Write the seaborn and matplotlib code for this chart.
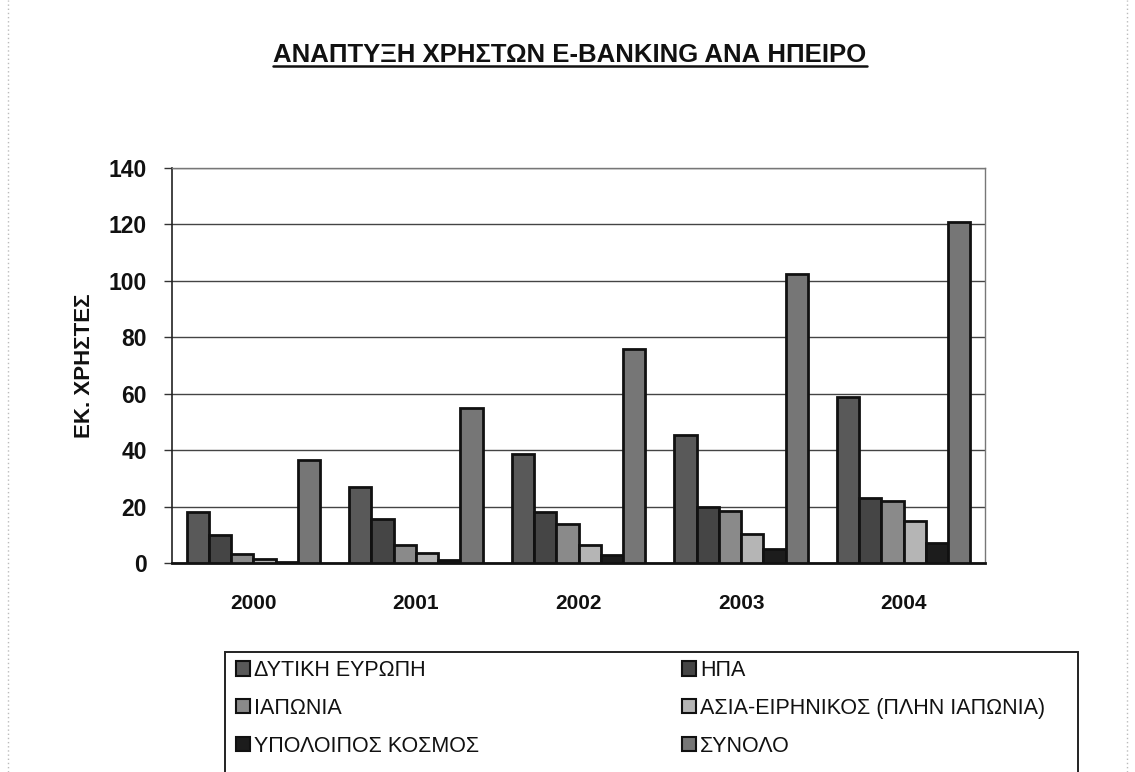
import matplotlib
matplotlib.use("Agg")
import matplotlib.pyplot as plt
from matplotlib.patches import Patch, Rectangle
from matplotlib.lines import Line2D
import seaborn as sns
import pandas as pd

# E-banking users (millions) by region
years = ["2000", "2001", "2002", "2003", "2004"]
western_europe = [18, 27, 38.5, 45.5, 59]
usa = [10, 15.5, 18, 20, 23]
japan = [3.2, 6.4, 14, 18.5, 22]
asia_pacific = [1.4, 3.6, 6.4, 10.3, 15]
rest_of_world = [0.5, 1, 3, 5, 7]
total = [36.5, 55, 76, 102.5, 121]

series_names = [
    "ΔΥΤΙΚΗ ΕΥΡΩΠΗ",
    "ΗΠΑ",
    "ΙΑΠΩΝΙΑ",
    "ΑΣΙΑ-ΕΙΡΗΝΙΚΟΣ (ΠΛΗΝ ΙΑΠΩΝΙΑ)",
    "ΥΠΟΛΟΙΠΟΣ ΚΟΣΜΟΣ",
    "ΣΥΝΟΛΟ",
]
series_values = [western_europe, usa, japan, asia_pacific, rest_of_world, total]
series_colors = ["#595959", "#454545", "#8a8a8a", "#b5b5b5", "#1c1c1c", "#767676"]

rows = []
for name, vals in zip(series_names, series_values):
    for y, v in zip(years, vals):
        rows.append({"year": y, "region": name, "users": v})
df = pd.DataFrame(rows)

sns.set_theme(style="white")
plt.rcParams["font.family"] = ["Liberation Sans", "DejaVu Sans"]

W, H = 1135, 772
fig = plt.figure(figsize=(W / 100, H / 100), dpi=100)
fig.patch.set_facecolor("white")
ax = fig.add_axes([172 / W, 1 - 563 / H, (985 - 172) / W, (563 - 168) / H])

palette = dict(zip(series_names, series_colors))
sns.barplot(
    data=df, x="year", y="users", hue="region", hue_order=series_names,
    order=years, palette=palette, saturation=1, width=0.82, gap=0,
    edgecolor="#111111", linewidth=2.0, legend=False, ax=ax, zorder=3,
)

ax.set_ylim(0, 140)
ax.set_xlim(-0.5, 4.5)
ax.set_yticks(range(0, 141, 20))
ax.yaxis.grid(True, color="#444444", linewidth=1.0, zorder=0)
ax.xaxis.grid(False)
for side in ["top", "right"]:
    ax.spines[side].set_color("#777777")
    ax.spines[side].set_linewidth(1.0)
ax.spines["left"].set_color("#222222")
ax.spines["left"].set_linewidth(1.2)
ax.spines["bottom"].set_color("#111111")
ax.spines["bottom"].set_linewidth(2.0)

ax.tick_params(axis="y", which="major", length=6, width=1, color="#333333",
               direction="out", left=True, pad=12, labelsize=16.5)
ax.tick_params(axis="x", length=0, pad=22, labelsize=15)
for lbl in ax.get_yticklabels() + ax.get_xticklabels():
    lbl.set_fontweight("bold")
    lbl.set_color("#111111")

ax.set_xlabel("")
ax.set_ylabel("ΕΚ. ΧΡΗΣΤΕΣ", fontsize=16, fontweight="bold", color="#111111",
              labelpad=10)

# Title with underline
title = fig.text(570 / W, 1 - 55 / H, "ΑΝΑΠΤΥΞΗ ΧΡΗΣΤΩΝ E-BANKING ΑΝΑ ΗΠΕΙΡΟ",
                 ha="center", va="center", fontsize=18.5, fontweight="bold",
                 color="#111111")

# Legend box
fig.add_artist(Rectangle((225 / W, -0.05), (1078 - 225) / W, (1 - 652 / H) + 0.05,
                         transform=fig.transFigure, facecolor="white",
                         edgecolor="#222222", linewidth=1.4, zorder=1))

handles = [Patch(facecolor=c, edgecolor="#111111", linewidth=1.5)
           for c in series_colors]
legend_kw = dict(frameon=False, loc="upper left", fontsize=15.5,
                 handlelength=0.65, handleheight=0.65, handletextpad=0.2,
                 labelspacing=0.78, borderpad=0, borderaxespad=0)
leg1 = fig.legend([handles[0], handles[2], handles[4]],
                  [series_names[0], series_names[2], series_names[4]],
                  bbox_to_anchor=(236 / W, 1 - 660 / H), **legend_kw)
leg2 = fig.legend([handles[1], handles[3], handles[5]],
                  [series_names[1], series_names[3], series_names[5]],
                  bbox_to_anchor=(682 / W, 1 - 660 / H), **legend_kw)
for leg in (leg1, leg2):
    leg.set_zorder(2)
    for t in leg.get_texts():
        t.set_color("#111111")

# Dotted page margins
for xp in (8, 1127):
    fig.add_artist(Line2D([xp / W, xp / W], [0, 1], transform=fig.transFigure,
                          color="#bbbbbb", linestyle=(0, (1, 2)), linewidth=1))

fig.canvas.draw()
bb = title.get_window_extent(fig.canvas.get_renderer())
uy = (bb.y0 + 1) / H
fig.add_artist(Line2D([bb.x0 / W, bb.x1 / W], [uy, uy], transform=fig.transFigure,
                      color="#111111", linewidth=1.8))

fig.savefig("out.png", dpi=100, facecolor="white")
